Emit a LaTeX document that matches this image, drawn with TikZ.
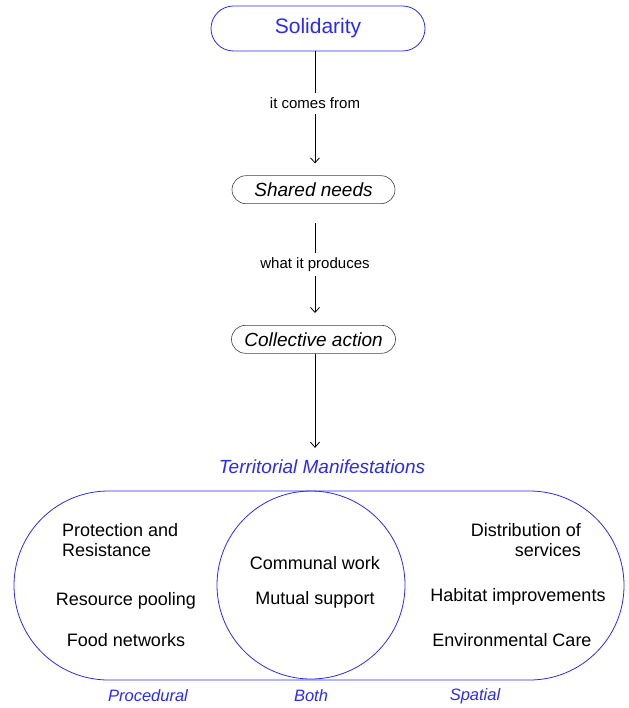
\documentclass[tikz,border=0pt]{standalone}
\usepackage{fontspec}
\setmainfont{Liberation Sans}
\usetikzlibrary{positioning, arrows.meta}
\definecolor{manblue}{HTML}{2A2AF2}
\tikzset{
flow/.style={-{Straight Barb[length=5pt,width=9pt]}, line width=0.8pt}, % thin open arrow heads
key/.style={draw=manblue, text=manblue, line width=0.8pt, rounded corners=22.5pt, minimum width=214pt, minimum height=45pt, font=\fontsize{21}{24}\selectfont},
stage/.style={draw=black!75, line width=0.6pt, rounded corners=14pt, minimum width=164pt, minimum height=28pt, font=\fontsize{19}{22}\selectfont\itshape},
verb/.style={fill=white, inner xsep=2pt, inner ysep=5pt, font=\fontsize{15}{18}\selectfont},
item/.style={inner sep=0pt, font=\fontsize{18}{20}\selectfont},
group/.style={inner sep=0pt, text=manblue, font=\fontsize{16.5}{19}\selectfont\itshape},
ring/.style={draw=manblue, line width=0.8pt},
}
\begin{document}
\begin{tikzpicture}[x=1pt, y=-1pt]
\useasboundingbox (0,0) rectangle (628,708);
% chain of concepts
\node[key] (solid) at (318,28.5) {Solidarity};
\node[stage, below=124pt of solid, xshift=-4.5pt, minimum width=163pt] (needs) {Shared needs};
\node[stage, below=121pt of needs] (action) {Collective action};
\node[group, font=\fontsize{19}{22}\selectfont\itshape] (terr) at (322,467) {Territorial Manifestations};
\coordinate (spine) at (315,0);
\draw[flow, shorten >=12pt] (solid.south -| spine) -- node[verb, pos=0.42] {it comes from} (needs.north -| spine);
\draw[flow, shorten <=19pt, shorten >=12pt] (needs.south -| spine) -- node[verb] {what it produces} (action.north -| spine);
\draw[flow, shorten >=12pt] (action.south -| spine) -- (terr.north -| spine);
% the two overlapping fields
\node[ring, rounded corners=94.5pt, minimum width=610pt, minimum height=189pt] (field) at (319,585.5) {};
\node[ring, circle, minimum size=188pt] (both) at (311,585) {};
% procedural side
\node[item, align=left, anchor=west] (protect) at (62,540) {Protection and\\Resistance};
\node[item] (pool) at (126,601) {Resource pooling};
\node[item] (food) at (126,640) {Food networks};
% shared middle
\node[item] (work) at (315,563) {Communal work};
\node[item] (mutual) at (315,600) {Mutual support};
% spatial side
\node[item, align=right, anchor=east] (distrib) at (581,540) {Distribution of\\services};
\node[item] (habitat) at (518,597) {Habitat improvements};
\node[item] (care) at (512,640) {Environmental Care};
% captions under the fields
\node[group] (proc) at (148,696) {Procedural};
\node[group] (bothlbl) at (311,696) {Both};
\node[group] (spat) at (475,696) {Spatial};
\end{tikzpicture}
\end{document}
